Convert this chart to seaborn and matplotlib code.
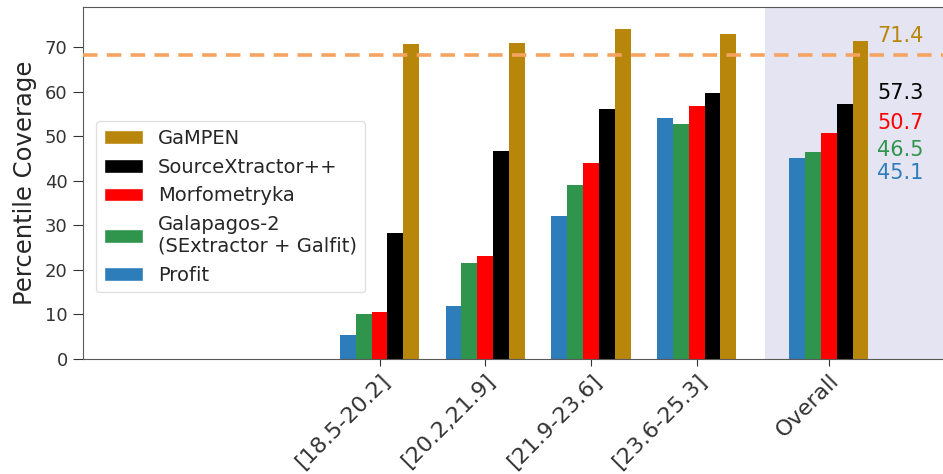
import numpy as np
import pandas as pd
import matplotlib
matplotlib.use("Agg")
import matplotlib.pyplot as plt
import seaborn as sns
from matplotlib.patches import Patch

categories = ["[18.5-20.2]", "[20.2,21.9]", "[21.9-23.6]", "[23.6-25.3]", "Overall"]
positions = [0.0, 1.0, 2.0, 3.0, 4.25]
methods = ["Profit", "Galapagos-2\n(SExtractor + Galfit)", "Morfometryka", "SourceXtractor++", "GaMPEN"]
profit = [5.3, 12.0, 32.1, 54.2, 45.1]
galapagos = [10.2, 21.6, 39.0, 52.7, 46.5]
morfo = [10.5, 23.2, 43.9, 56.7, 50.7]
sourcex = [28.2, 46.6, 56.0, 59.6, 57.3]
gampen = [70.7, 71.0, 74.1, 73.0, 71.4]
overall_labels = ["45.1", "46.5", "50.7", "57.3", "71.4"]
label_y = [41.7, 46.9, 52.9, 59.6, 72.6]
colors = ["#2e7dbb", "#30954c", "#ff0000", "#000000", "#b8860b"]
threshold = 68.27

series = [profit, galapagos, morfo, sourcex, gampen]
rows = []
for m, vals in zip(methods, series):
    for p, v in zip(positions, vals):
        rows.append({"pos": p, "method": m, "value": v})
df = pd.DataFrame(rows)

sns.set_style("ticks")
plt.rcParams["font.family"] = ["DejaVu Sans"]

fig = plt.figure(figsize=(9.43, 4.74), dpi=100)
ax = fig.add_axes([83/943, 115/474, 860/943, 352/474])

ax.axvspan(3.65, 6.0, color="#e4e4f2", zorder=0, lw=0)

sns.barplot(data=df, x="pos", y="value", hue="method", hue_order=methods,
            palette=colors, native_scale=True, width=0.75, ax=ax,
            errorbar=None, saturation=1, legend=False, zorder=2, linewidth=0)

ax.axhline(threshold, color="#f4a460", ls=(0, (4, 2.6)), lw=2.6, zorder=5)

for t, y, c in zip(overall_labels, label_y, colors):
    ax.text(4.71, y, t, color=c, fontsize=15, va="center", ha="left", zorder=6)

ax.set_xlim(-2.805, 5.33)
ax.set_ylim(0, 79)
ax.set_xticks(positions)
ax.set_xticklabels(categories, rotation=45, ha="right", rotation_mode="anchor", fontsize=16)
ax.set_yticks(np.arange(0, 71, 10))
ax.tick_params(axis="y", labelsize=13, colors="0.2", length=7.5, pad=3.5)
ax.tick_params(axis="x", colors="0.2", length=5)
ax.set_xlabel("")
ax.set_ylabel("Percentile Coverage", fontsize=17.5, color="0.15", labelpad=6)
for s in ["left", "bottom", "top"]:
    ax.spines[s].set_color("0.35")
ax.spines["right"].set_visible(False)

handles = [Patch(facecolor=c, label=m) for c, m in zip(colors, methods)][::-1]
ax.legend(handles=handles, loc="upper left", bbox_to_anchor=(0.015, 0.676),
          borderaxespad=0, fontsize=14, frameon=True, edgecolor="0.85")

fig.savefig("out.png", dpi=100)
